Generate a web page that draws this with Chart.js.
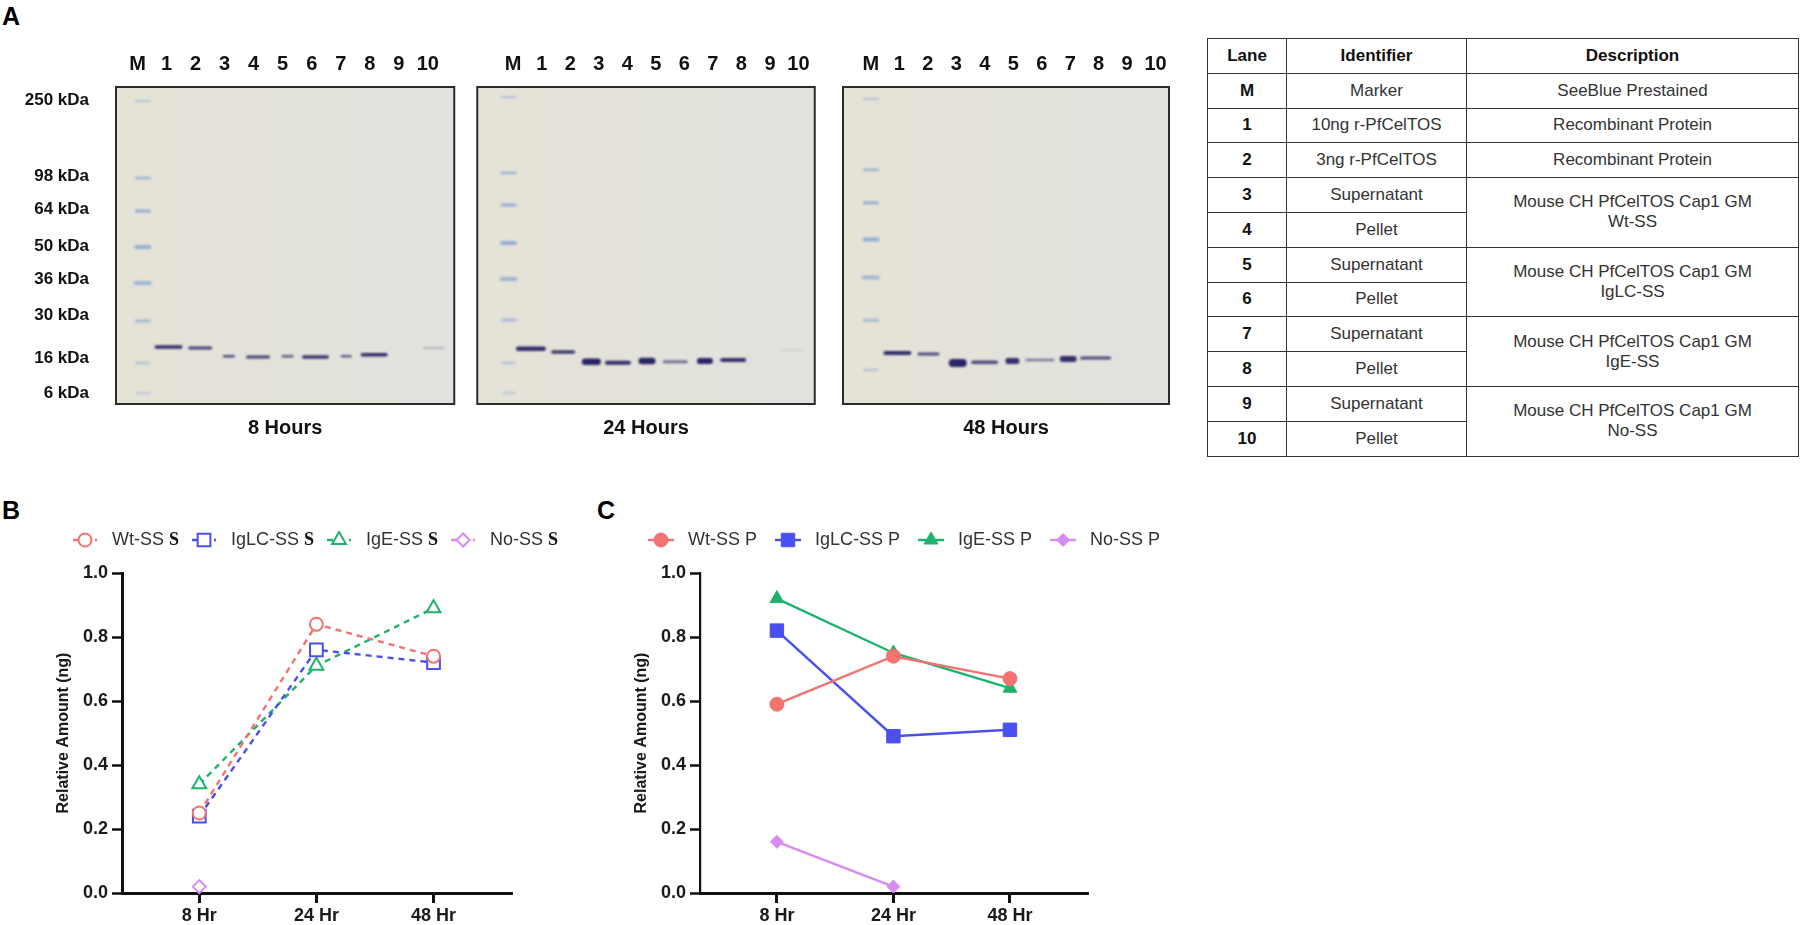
<!DOCTYPE html>
<html>
<head>
<meta charset="utf-8">
<script src="https://cdn.jsdelivr.net/npm/chart.js@4.4.1/dist/chart.umd.min.js"></script>
<style>
    body { margin: 0; width: 1802px; height: 925px; position: relative; overflow: hidden; background: #fff;
           font-family: "Liberation Sans", Arial, sans-serif; }
    .letter { position: absolute; font-size: 25px; line-height: 25px; font-weight: bold; color: #000; }
    canvas { position: absolute; }
    table { position: absolute; left: 1207px; top: 38px; width: 591px; border-collapse: collapse; table-layout: fixed; }
    tr { height: 34.8px; }
    td, th { border: 1.5px solid #333; padding: 0; text-align: center; vertical-align: middle;
             font-size: 17px; line-height: 20px; color: #333; }
    th, td.lane { font-weight: bold; color: #111; }
</style>
</head>
<body>

<div class="letter" style="left:2px; top:4px;">A</div>
<div class="letter" style="left:2px; top:498px;">B</div>
<div class="letter" style="left:597px; top:498px;">C</div>

<canvas id="gel8" width="470" height="410" style="left:0px; top:40px;"></canvas>
<canvas id="gel24" width="372" height="410" style="left:460px; top:40px;"></canvas>
<canvas id="gel48" width="360" height="410" style="left:826px; top:40px;"></canvas>

<table>
    <colgroup><col style="width:79px"><col style="width:180px"><col style="width:332px"></colgroup>
    <tr><th>Lane</th><th>Identifier</th><th>Description</th></tr>
    <tr><td class="lane">M</td><td>Marker</td><td>SeeBlue Prestained</td></tr>
    <tr><td class="lane">1</td><td>10ng r-PfCelTOS</td><td>Recombinant Protein</td></tr>
    <tr><td class="lane">2</td><td>3ng r-PfCelTOS</td><td>Recombinant Protein</td></tr>
    <tr><td class="lane">3</td><td>Supernatant</td><td rowspan="2">Mouse CH PfCelTOS Cap1 GM<br>Wt-SS</td></tr>
    <tr><td class="lane">4</td><td>Pellet</td></tr>
    <tr><td class="lane">5</td><td>Supernatant</td><td rowspan="2">Mouse CH PfCelTOS Cap1 GM<br>IgLC-SS</td></tr>
    <tr><td class="lane">6</td><td>Pellet</td></tr>
    <tr><td class="lane">7</td><td>Supernatant</td><td rowspan="2">Mouse CH PfCelTOS Cap1 GM<br>IgE-SS</td></tr>
    <tr><td class="lane">8</td><td>Pellet</td></tr>
    <tr><td class="lane">9</td><td>Supernatant</td><td rowspan="2">Mouse CH PfCelTOS Cap1 GM<br>No-SS</td></tr>
    <tr><td class="lane">10</td><td>Pellet</td></tr>
</table>

<canvas id="chartS" width="560" height="445" style="left:0px; top:480px;"></canvas>
<canvas id="chartP" width="620" height="445" style="left:578px; top:480px;"></canvas>

<script>
// ---- time course data (relative amount, ng) ----
const hours = ['8 Hr', '24 Hr', '48 Hr'];

const wtS = [0.25, 0.84, 0.74];
const iglcS = [0.24, 0.76, 0.72];
const igeS = [0.34, 0.71, 0.89];
const noS = [0.02, null, null];

const wtP = [0.59, 0.74, 0.67];
const iglcP = [0.82, 0.49, 0.51];
const igeP = [0.92, 0.75, 0.64];
const noP = [0.16, 0.02, null];

// ---- gels: lanes, marker sizes, band migration (% of gel length) ----
const lanes = ['M', '1', '2', '3', '4', '5', '6', '7', '8', '9', '10'];
const kdaLabels = ['250 kDa', '98 kDa', '64 kDa', '50 kDa', '36 kDa', '30 kDa', '16 kDa', '6 kDa'];
const kdaTicks = [4.1, 28.1, 38.5, 50.2, 60.6, 71.9, 85.5, 96.5];

const ladder8h = [4.4, 28.7, 39.1, 50.5, 61.8, 73.8, 87.1, 96.5];
const ladder24h = [3.2, 27.1, 37.2, 49.2, 60.6, 73.5, 87.1, 96.5];
const ladder48h = [3.8, 26.1, 36.5, 48.1, 60.1, 73.6, 89.3];

const bandLane8h = [1.07, 2.16, 3.15, 4.15, 5.17, 6.13, 7.19, 8.15, 10.2];
const bandMig8h = [82.0, 82.3, 84.9, 85.2, 84.9, 85.2, 84.9, 84.5, 82.3];
const bandLane24h = [0.62, 1.75, 2.74, 3.67, 4.69, 5.68, 6.72, 7.71, 9.76];
const bandMig24h = [82.6, 83.6, 86.7, 87.0, 86.4, 86.7, 86.4, 86.1, 83.0];
const bandLane48h = [0.93, 2.02, 3.05, 3.99, 4.97, 5.93, 6.93, 7.89];
const bandMig48h = [83.9, 84.2, 87.1, 86.8, 86.4, 86.1, 85.8, 85.5];

// ---- look of the bands (length px, thickness px, density) ----
const ladderLook = {
    len: [16, 16, 16, 17, 18, 16, 15, 14],
    thick: [1.5, 2.5, 3, 4, 4, 3, 2.5, 2.5],
    alpha: [0.6, 0.65, 0.7, 0.7, 0.6, 0.55, 0.4, 0.3]
};
const look8h = {
    len: [28, 24, 12, 24, 12, 27, 11, 27, 22],
    thick: [3.5, 3, 2.5, 3, 2.5, 3.5, 2.5, 3.5, 1.5],
    alpha: [0.95, 0.85, 0.8, 0.85, 0.7, 0.9, 0.7, 0.95, 0.3]
};
const look24h = {
    len: [30, 24, 19, 26, 17, 25, 16, 26, 24],
    thick: [4.5, 3.5, 6.5, 4, 6.5, 3, 6, 4, 1],
    alpha: [0.95, 0.9, 1, 0.95, 1, 0.6, 1, 0.95, 0.12]
};
const look48h = {
    len: [28, 22, 18, 27, 14, 29, 17, 31],
    thick: [4, 3, 8, 3.5, 6, 2.5, 6, 3],
    alpha: [0.95, 0.8, 1, 0.8, 0.95, 0.55, 0.95, 0.8]
};

Chart.defaults.font.family = '"Liberation Sans", Arial, sans-serif';
Chart.defaults.color = '#1a1a1a';

const gelFrame = {
    id: 'gelFrame',
    beforeDatasetsDraw(chart) {
        const {ctx, chartArea: a} = chart;
        const g = ctx.createLinearGradient(a.left, 0, a.right, 0);
        g.addColorStop(0, '#e5e2d6');
        g.addColorStop(1, '#e1e2de');
        ctx.save();
        ctx.fillStyle = g;
        ctx.fillRect(a.left, a.top, a.right - a.left, a.bottom - a.top);
        ctx.filter = 'blur(0.8px)';
        ctx.lineCap = 'round';
    },
    afterDatasetsDraw(chart) {
        const {ctx, chartArea: a} = chart;
        ctx.restore();
        ctx.save();
        ctx.strokeStyle = '#2b2b2b';
        ctx.lineWidth = 2;
        ctx.strokeRect(a.left, a.top, a.right - a.left, a.bottom - a.top);
        ctx.restore();
    }
};

function bandSet(xs, ys, look, rgb) {
    return {
        data: ys.map((y, i) => ({x: Array.isArray(xs) ? xs[i] : xs, y: y})),
        showLine: false,
        clip: false,
        pointStyle: 'line',
        pointRadius: c => Math.max(1, (look.len[c.dataIndex] - look.thick[c.dataIndex]) / 2),
        pointBorderWidth: c => look.thick[c.dataIndex],
        pointBorderColor: c => 'rgba(' + rgb + ',' + look.alpha[c.dataIndex] + ')',
        pointBackgroundColor: 'rgba(0,0,0,0)'
    };
}

function buildGel(id, g) {
    let ctx = document.getElementById(id);
    return new Chart(ctx, {
        type: 'scatter',
        data: {
            datasets: [
                bandSet(g.ladderLane, g.ladder, ladderLook, '110,155,212'),
                bandSet(g.bandLane, g.bandMig, g.look, '40,36,102')
            ]
        },
        options: {
            responsive: false,
            animation: false,
            events: [],
            layout: {padding: {left: g.padLeft, right: g.padRight, top: 0, bottom: 0}},
            plugins: {legend: {display: false}, tooltip: {enabled: false}},
            scales: {
                x: {
                    type: 'linear', position: 'top', min: g.xMin, max: g.xMax,
                    afterBuildTicks: s => { s.ticks = lanes.map((_, i) => ({value: i})); },
                    afterFit: s => { s.height = 47; },
                    grid: {display: false}, border: {display: false},
                    ticks: {padding: 3, autoSkip: false, maxRotation: 0, color: '#111',
                            font: {size: 20, weight: 'bold'}, callback: v => lanes[Math.round(v)]}
                },
                cap: {
                    type: 'linear', position: 'bottom', min: 0, max: 1,
                    afterFit: s => { s.height = 46; },
                    grid: {display: false}, border: {display: false}, ticks: {display: false},
                    title: {display: true, text: g.caption, color: '#111', padding: {top: 0, bottom: 10},
                            font: {size: 20, weight: 'bold'}}
                },
                y: {
                    type: 'linear', reverse: true, min: 0, max: 100, display: g.showKda,
                    afterBuildTicks: s => { s.ticks = kdaTicks.map(v => ({value: v})); },
                    afterFit: s => { s.width = g.showKda ? 116 : 0; },
                    grid: {display: false}, border: {display: false},
                    ticks: {padding: 19, color: '#111', font: {size: 17, weight: 'bold'},
                            callback: (v, i) => kdaLabels[i]}
                }
            }
        },
        plugins: [gelFrame]
    });
}

buildGel('gel8', {ladderLane: 0.18, ladder: ladder8h, bandLane: bandLane8h, bandMig: bandMig8h, look: look8h,
    xMin: -0.74, xMax: 10.91, padLeft: 0, padRight: 13, showKda: true, caption: '8 Hours'});
buildGel('gel24', {ladderLane: -0.16, ladder: ladder24h, bandLane: bandLane24h, bandMig: bandMig24h, look: look24h,
    xMin: -1.26, xMax: 10.57, padLeft: 13, padRight: 13, showKda: false, caption: '24 Hours'});
buildGel('gel48', {ladderLane: 0.0, ladder: ladder48h, bandLane: bandLane48h, bandMig: bandMig48h, look: look48h,
    xMin: -0.98, xMax: 10.47, padLeft: 12, padRight: 13, showKda: false, caption: '48 Hours'});

// ---- line charts ----
const salmon = '#f2736f';
const blue = '#4a4ff0';
const green = '#1db36b';
const violet = '#d68cf2';

const lineLegend = {
    id: 'lineLegend',
    afterDraw(chart, args, o) {
        const ctx = chart.ctx;
        let x = o.x;
        ctx.save();
        chart.data.datasets.forEach(ds => {
            ctx.strokeStyle = ds.borderColor;
            ctx.lineWidth = ds.borderWidth;
            ctx.setLineDash(ds.borderDash || []);
            ctx.beginPath();
            ctx.moveTo(x, o.y);
            ctx.lineTo(x + o.lineLen, o.y);
            ctx.stroke();
            ctx.setLineDash([]);
            ctx.fillStyle = ds.pointBackgroundColor;
            ctx.strokeStyle = ds.pointBorderColor;
            ctx.lineWidth = ds.pointBorderWidth;
            Chart.helpers.drawPoint(ctx, {pointStyle: ds.pointStyle, radius: ds.pointRadius, rotation: 0,
                borderWidth: ds.pointBorderWidth}, x + o.lineLen / 2, o.y);
            x += o.lineLen + o.gap;

            ctx.textBaseline = 'middle';
            ctx.textAlign = 'left';
            ctx.fillStyle = '#333';
            ctx.font = '18px "Liberation Sans", Arial, sans-serif';
            let main = ds.label;
            let tail = '';
            if (o.tailFont) {
                main = ds.label.slice(0, ds.label.lastIndexOf(' ') + 1);
                tail = ds.label.slice(ds.label.lastIndexOf(' ') + 1);
            }
            ctx.fillText(main, x, o.y);
            x += ctx.measureText(main).width;
            if (tail) {
                ctx.font = o.tailFont;
                ctx.fillStyle = '#111';
                ctx.fillText(tail, x, o.y);
                x += ctx.measureText(tail).width;
            }
            x += o.after;
        });
        ctx.restore();
    }
};

function series(values) {
    return values.map((v, i) => ({x: i, y: v}));
}

function makeSet(label, values, color, style, radius, open) {
    return {
        label: label,
        data: series(values),
        borderColor: color,
        borderWidth: 2.4,
        borderDash: open ? [6, 5] : [],
        clip: false,
        pointStyle: style,
        pointRadius: radius,
        pointBorderWidth: open ? 2 : 1,
        pointBorderColor: color,
        pointBackgroundColor: open ? '#ffffff' : color
    };
}

function buildTimeChart(id, datasets, yBorder, padRight, legend) {
    let ctx = document.getElementById(id);
    return new Chart(ctx, {
        type: 'line',
        data: {datasets: datasets},
        options: {
            responsive: false,
            animation: false,
            events: [],
            layout: {padding: {left: 0, right: padRight, top: 93, bottom: 0}},
            plugins: {legend: {display: false}, tooltip: {enabled: false}, lineLegend: legend},
            scales: {
                x: {
                    type: 'linear', min: -0.66, max: 2.67,
                    afterBuildTicks: s => { s.ticks = hours.map((_, i) => ({value: i})); },
                    afterFit: s => { s.height = 32; },
                    grid: {drawOnChartArea: false, drawTicks: true, tickLength: 10, tickWidth: 3, tickColor: '#111'},
                    border: {color: '#111', width: 3},
                    ticks: {padding: 2, autoSkip: false, maxRotation: 0, color: '#1a1a1a',
                            font: {size: 18, weight: 'bold'}, callback: v => hours[Math.round(v)]}
                },
                y: {
                    min: 0, max: 1,
                    afterFit: s => { s.width = 122; },
                    grid: {drawOnChartArea: false, drawTicks: true, tickLength: 10, tickWidth: 2.5, tickColor: '#111'},
                    border: {color: '#111', width: yBorder},
                    ticks: {stepSize: 0.2, padding: 4, color: '#1a1a1a', font: {size: 18, weight: 'bold'},
                            callback: v => v.toFixed(1)},
                    title: {display: true, text: 'Relative Amount (ng)', color: '#1a1a1a',
                            padding: {top: 53.5, bottom: 0}, font: {size: 16, weight: 'bold'}}
                }
            }
        },
        plugins: [lineLegend]
    });
}

buildTimeChart('chartS', [
    makeSet('Wt-SS S', wtS, salmon, 'circle', 6.5, true),
    makeSet('IgLC-SS S', iglcS, blue, 'rect', 9, true),
    makeSet('IgE-SS S', igeS, green, 'triangle', 8, true),
    makeSet('No-SS S', noS, violet, 'rectRot', 6.5, true)
], 3, 48, {x: 73, y: 60, lineLen: 24, gap: 15, after: 13, tailFont: 'bold 18px "Liberation Serif", "Times New Roman", serif'});

buildTimeChart('chartP', [
    makeSet('Wt-SS P', wtP, salmon, 'circle', 7, false),
    makeSet('IgLC-SS P', iglcP, blue, 'rect', 9.5, false),
    makeSet('IgE-SS P', igeP, green, 'triangle', 8, false),
    makeSet('No-SS P', noP, violet, 'rectRot', 6.5, false)
], 2.2, 110, {x: 70, y: 60, lineLen: 26, gap: 14, after: 18, tailFont: null});
</script>
</body>
</html>
